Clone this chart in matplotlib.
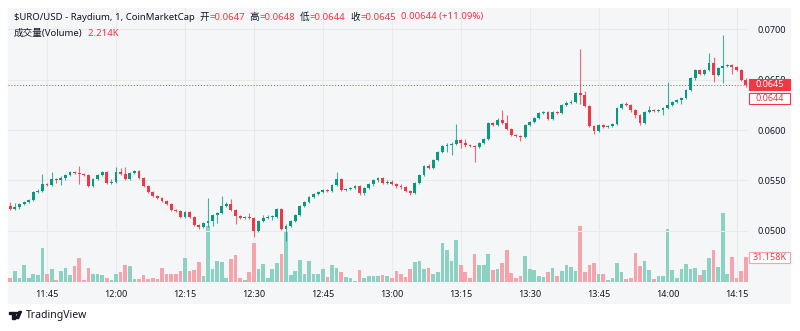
import numpy as np
import matplotlib
matplotlib.use('Agg')
import matplotlib.pyplot as plt
from matplotlib.patches import Rectangle, Polygon, Circle

plt.rcParams['font.family'] = ['Noto Sans', 'Noto Sans CJK SC', 'DejaVu Sans']

# bougies 1 minute, de 11:37 a 14:17
first_open = 0.0525
close = [0.0522, 0.0524, 0.0527, 0.0529, 0.0531, 0.0539, 0.0540, 0.0547, 0.0546, 0.0551,
         0.0550, 0.0552, 0.0555, 0.0558, 0.0557, 0.0556, 0.0555, 0.0545, 0.0551, 0.0555,
         0.0558, 0.0548, 0.0549, 0.0558, 0.0556, 0.0551, 0.0557, 0.0559, 0.0552, 0.0545,
         0.0539, 0.0535, 0.0533, 0.0530, 0.0527, 0.0521, 0.0520, 0.0514, 0.0519, 0.0514,
         0.0506, 0.0504, 0.0508, 0.0510, 0.0516, 0.0518, 0.0525, 0.0527, 0.0521, 0.0515,
         0.0513, 0.0514, 0.0513, 0.0500, 0.0510, 0.0513, 0.0514, 0.0514, 0.0522, 0.0502,
         0.0505, 0.0510, 0.0516, 0.0525, 0.0529, 0.0534, 0.0537, 0.0539, 0.0541, 0.0540,
         0.0546, 0.0551, 0.0541, 0.0542, 0.0543, 0.0545, 0.0538, 0.0543, 0.0547, 0.0550,
         0.0552, 0.0548, 0.0549, 0.0547, 0.0545, 0.0544, 0.0540, 0.0538, 0.0548, 0.0555,
         0.0564, 0.0562, 0.0570, 0.0578, 0.0584, 0.0585, 0.0586, 0.0590, 0.0587, 0.0585,
         0.0584, 0.0583, 0.0587, 0.0591, 0.0607, 0.0605, 0.0610, 0.0607, 0.0601, 0.0595,
         0.0594, 0.0593, 0.0605, 0.0608, 0.0612, 0.0617, 0.0618, 0.0611, 0.0618, 0.0617,
         0.0625, 0.0627, 0.0628, 0.0637, 0.0635, 0.0624, 0.0604, 0.0599, 0.0605, 0.0603,
         0.0604, 0.0606, 0.0622, 0.0626, 0.0625, 0.0620, 0.0615, 0.0607, 0.0618, 0.0620,
         0.0619, 0.0620, 0.0622, 0.0625, 0.0628, 0.0630, 0.0632, 0.0640, 0.0651, 0.0659,
         0.0655, 0.0659, 0.0666, 0.0654, 0.0661, 0.0663, 0.0664, 0.0662, 0.0659, 0.0650,
         0.0645]
high = [0.0529, 0.0528, 0.0528, 0.0530, 0.0532, 0.0540, 0.0542, 0.0556, 0.0548, 0.0558,
        0.0552, 0.0554, 0.0556, 0.0559, 0.0559, 0.0564, 0.0557, 0.0556, 0.0552, 0.0556,
        0.0559, 0.0559, 0.0551, 0.0563, 0.0562, 0.0563, 0.0558, 0.0560, 0.0560, 0.0553,
        0.0546, 0.0540, 0.0536, 0.0534, 0.0531, 0.0528, 0.0522, 0.0521, 0.0520, 0.0520,
        0.0515, 0.0507, 0.0509, 0.0533, 0.0517, 0.0519, 0.0535, 0.0529, 0.0532, 0.0522,
        0.0516, 0.0515, 0.0518, 0.0514, 0.0511, 0.0516, 0.0516, 0.0516, 0.0523, 0.0523,
        0.0507, 0.0511, 0.0517, 0.0526, 0.0530, 0.0535, 0.0538, 0.0540, 0.0542, 0.0542,
        0.0547, 0.0558, 0.0552, 0.0543, 0.0544, 0.0546, 0.0546, 0.0544, 0.0548, 0.0551,
        0.0553, 0.0553, 0.0550, 0.0550, 0.0548, 0.0547, 0.0545, 0.0541, 0.0549, 0.0556,
        0.0565, 0.0566, 0.0571, 0.0579, 0.0585, 0.0587, 0.0588, 0.0606, 0.0591, 0.0591,
        0.0586, 0.0585, 0.0588, 0.0592, 0.0608, 0.0608, 0.0612, 0.0620, 0.0615, 0.0602,
        0.0596, 0.0595, 0.0606, 0.0609, 0.0613, 0.0618, 0.0619, 0.0619, 0.0619, 0.0619,
        0.0626, 0.0629, 0.0630, 0.0638, 0.0680, 0.0639, 0.0625, 0.0605, 0.0606, 0.0606,
        0.0605, 0.0607, 0.0623, 0.0627, 0.0628, 0.0626, 0.0621, 0.0616, 0.0619, 0.0624,
        0.0621, 0.0621, 0.0623, 0.0648, 0.0629, 0.0631, 0.0633, 0.0641, 0.0652, 0.0660,
        0.0660, 0.0660, 0.0676, 0.0672, 0.0662, 0.0694, 0.0665, 0.0665, 0.0663, 0.0660,
        0.0651]
low = [0.0521, 0.0521, 0.0522, 0.0526, 0.0528, 0.0530, 0.0538, 0.0539, 0.0545, 0.0545,
       0.0548, 0.0546, 0.0550, 0.0554, 0.0556, 0.0547, 0.0554, 0.0544, 0.0544, 0.0550,
       0.0554, 0.0547, 0.0547, 0.0548, 0.0555, 0.0550, 0.0550, 0.0556, 0.0551, 0.0544,
       0.0538, 0.0534, 0.0532, 0.0529, 0.0526, 0.0520, 0.0519, 0.0513, 0.0513, 0.0513,
       0.0505, 0.0502, 0.0503, 0.0504, 0.0505, 0.0508, 0.0517, 0.0524, 0.0520, 0.0507,
       0.0512, 0.0512, 0.0512, 0.0494, 0.0499, 0.0509, 0.0512, 0.0511, 0.0513, 0.0501,
       0.0490, 0.0504, 0.0509, 0.0515, 0.0524, 0.0528, 0.0533, 0.0536, 0.0538, 0.0539,
       0.0539, 0.0545, 0.0540, 0.0540, 0.0541, 0.0542, 0.0536, 0.0536, 0.0542, 0.0545,
       0.0549, 0.0547, 0.0547, 0.0546, 0.0543, 0.0542, 0.0539, 0.0536, 0.0537, 0.0547,
       0.0554, 0.0561, 0.0561, 0.0569, 0.0577, 0.0578, 0.0575, 0.0585, 0.0582, 0.0583,
       0.0583, 0.0568, 0.0582, 0.0586, 0.0590, 0.0604, 0.0604, 0.0606, 0.0600, 0.0594,
       0.0593, 0.0589, 0.0592, 0.0604, 0.0607, 0.0611, 0.0616, 0.0610, 0.0610, 0.0616,
       0.0616, 0.0624, 0.0626, 0.0627, 0.0626, 0.0623, 0.0603, 0.0596, 0.0598, 0.0602,
       0.0602, 0.0603, 0.0605, 0.0621, 0.0624, 0.0618, 0.0612, 0.0605, 0.0606, 0.0617,
       0.0618, 0.0618, 0.0615, 0.0621, 0.0624, 0.0627, 0.0626, 0.0631, 0.0639, 0.0650,
       0.0654, 0.0654, 0.0658, 0.0648, 0.0653, 0.0647, 0.0662, 0.0655, 0.0658, 0.0649,
       0.0643]
# volume en milliers
volume = [5.5, 13.7, 5.5, 21, 5, 10, 8.5, 43, 10, 16,
          3, 14, 18, 8.5, 20, 30, 3, 18, 10, 10,
          8.5, 5.5, 2, 10, 13, 21, 20, 4, 4, 8.5,
          4, 5.5, 3.4, 18, 10, 10, 10, 14, 31, 14,
          15, 25, 7, 71, 16, 26, 25, 5.5, 29, 34,
          5.5, 3, 13, 50, 16, 23, 5.5, 16, 24, 35,
          63, 8.5, 14, 28, 10, 26, 10, 10, 16, 6.4,
          22, 18, 13, 6.4, 5.5, 1.3, 15, 5, 7.7, 7.7,
          7.7, 8.5, 7, 5, 14, 10, 6.4, 16, 25, 27,
          16, 17.5, 10, 13, 50, 41, 26, 53, 21, 13,
          5, 35, 21, 21, 35, 15, 16, 24, 40, 11.5,
          5, 7.7, 33, 16, 15, 7, 6.4, 13, 18, 7,
          14, 22, 19, 14, 71, 13, 21, 23.5, 10.7, 10,
          2, 5, 23.5, 13, 3.4, 5.5, 37, 20, 26, 15,
          3.4, 7, 7.7, 67, 15, 5, 16, 23, 16, 18,
          8.5, 15, 30, 40.5, 19, 87.5, 10, 32, 5.5, 14,
          31.158]

tick_pos = [8, 23, 38, 53, 68, 83, 98, 113, 128, 143, 158]
tick_labels = ['11:45', '12:00', '12:15', '12:30', '12:45', '13:00',
               '13:15', '13:30', '13:45', '14:00', '14:15']
bold_labels = ['12:00', '13:00', '14:00']
price_ticks = [0.0500, 0.0550, 0.0600, 0.0650, 0.0700]

UP = '#089981'
DOWN = '#F23645'
UP_VOL = '#8CD2C3'
DOWN_VOL = '#F7A3AC'
TXT = '#131722'
BG = '#F5F6F8'
GRID = '#E8EAEE'

opens = [first_open] + close[:-1]
x = np.arange(len(close))
up = [c >= o for o, c in zip(opens, close)]

W, H = 800, 331
fig = plt.figure(figsize=(8, 3.31), dpi=100, facecolor='white')
# fond du panneau
fig.patches.append(Rectangle((8 / W, 1 - 303 / H), 782 / W, 295 / H,
                             transform=fig.transFigure, color=BG, zorder=-1))

ax = fig.add_axes([8 / W, 1 - 282 / H, 740 / W, 274 / H])
ax.set_facecolor('none')
for s in ax.spines.values():
    s.set_visible(False)

# volume
ax.bar(x, volume, width=0.8, color=[UP_VOL if u else DOWN_VOL for u in up])
ax.set_ylim(0, 347)
ax.set_yticks([])
ax.set_xlim(-0.5, 160.5)
ax.set_xticks(tick_pos, tick_labels)
ax.tick_params(axis='x', length=0, pad=6, labelsize=6.5, labelcolor=TXT)
for lab in ax.get_xticklabels():
    if lab.get_text() in bold_labels:
        lab.set_fontweight('bold')
ax.grid(axis='x', color=GRID, lw=0.8)
ax.set_axisbelow(True)

# bougies
ax2 = ax.twinx()
for s in ax2.spines.values():
    s.set_visible(False)
ax2.grid(axis='y', color=GRID, lw=0.8)
ax2.set_axisbelow(True)
col = [UP if u else DOWN for u in up]
ax2.vlines(x, low, high, colors=col, lw=0.8, alpha=0.75)
body = [max(abs(c - o), 0.00008) for o, c in zip(opens, close)]
bottom = [min(o, c) for o, c in zip(opens, close)]
ax2.bar(x, body, bottom=bottom, width=0.62, color=col)
ax2.set_ylim(0.04495, 0.07208)
ax2.set_yticks(price_ticks, ['%.4f' % p for p in price_ticks])
ax2.tick_params(axis='y', length=0, pad=7, labelsize=6.5, labelcolor=TXT)
ax2.axhline(close[-1], color=DOWN, lw=0.7, ls=(0, (1, 2)))

fig.canvas.draw()
r = fig.canvas.get_renderer()


def chain(parts, x0, y0, size):
    xx = x0
    for s, c in parts:
        t = fig.text(xx / W, 1 - y0 / H, s, color=c, fontsize=size, ha='left', va='center')
        xx = t.get_window_extent(renderer=r).x1


chain([(r'\$URO/USD - Raydium, 1, CoinMarketCap', TXT), ('  开', TXT), ('=0.0647', DOWN),
       ('  高', TXT), ('=0.0648', DOWN), ('  低', TXT), ('=0.0644', DOWN),
       ('  收', TXT), ('=0.0645', DOWN), ('  0.00644 (+11.09%)', DOWN)], 14, 17, 6.9)
chain([('成交量(Volume)', TXT), ('  2.214K', DOWN)], 14, 33, 6.9)


def box_label(y_pix, s, fill, edge, tc):
    bx, bw, bh = 749, 41, 11.5
    fig.patches.append(Rectangle((bx / W, (y_pix - bh / 2) / H), bw / W, bh / H,
                                 transform=fig.transFigure, facecolor=fill,
                                 edgecolor=edge, lw=0.8, zorder=5))
    fig.text((bx + bw / 2) / W, y_pix / H, s, color=tc, fontsize=6.5,
             ha='center', va='center', zorder=6)


yp = ax2.transData.transform((0, close[-1]))[1]
box_label(yp, '0.0645', DOWN, DOWN, 'white')
box_label(yp - 14, '0.0644', 'white', DOWN, DOWN)
yv = ax.transData.transform((0, volume[-1]))[1]
box_label(yv, '31.158K', 'white', '#F7A3AC', DOWN)


# logo TradingView
def P(px, py):
    return (px / W, 1 - py / H)


fig.patches.append(Polygon([P(8.5, 311.5), P(15, 311.5), P(15, 318.5), P(11.5, 318.5),
                            P(11.5, 314), P(8.5, 314)], closed=True,
                           transform=fig.transFigure, color=TXT))
fig.patches.append(Circle(P(16.8, 313), 1.2 / W, transform=fig.transFigure, color=TXT))
fig.patches.append(Polygon([P(19, 311.5), P(21.5, 311.5), P(18.5, 318.5), P(15.8, 318.5)],
                           closed=True, transform=fig.transFigure, color=TXT))
fig.text(26 / W, 1 - 315.5 / H, 'TradingView', color=TXT, fontsize=7.5, ha='left', va='center')

fig.savefig('out.png', dpi=100, facecolor='white')
